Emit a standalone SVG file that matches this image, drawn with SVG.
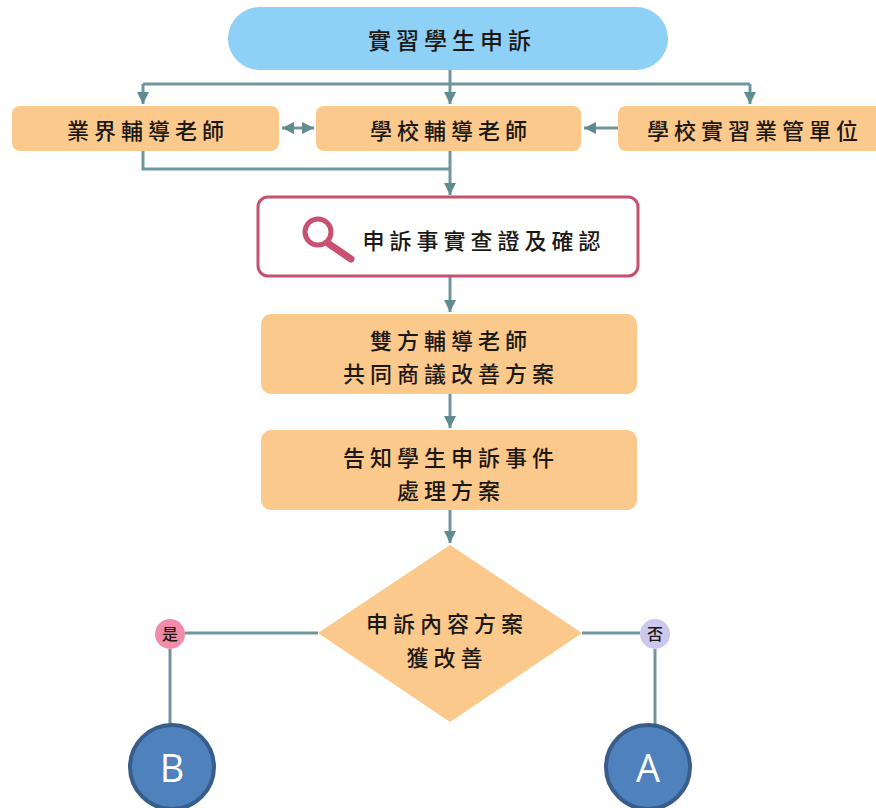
<svg xmlns="http://www.w3.org/2000/svg" width="876" height="808" viewBox="0 0 876 808">
<defs>
<style>
.box{fill:#fcc98c;}
.cn{font-family:"Noto Sans CJK TC","Noto Sans CJK SC",sans-serif;font-size:22px;font-weight:500;fill:#1c1814;letter-spacing:5px;text-anchor:middle;dominant-baseline:central;}
.sm{font-size:16px;letter-spacing:0;}
.ln{fill:none;stroke:#6f979b;stroke-width:3;}
.big{fill:#4f81bd;stroke:#385d8a;stroke-width:4;}
.lt{font-family:"Open Sans","Liberation Sans",sans-serif;font-size:38px;fill:#ffffff;text-anchor:middle;dominant-baseline:central;}
</style>
<marker id="ah" markerUnits="userSpaceOnUse" markerWidth="14" markerHeight="12" refX="12" refY="6" orient="auto-start-reverse">
<path d="M0,0 L12,6 L0,12 Z" fill="#5f8c91"/>
</marker>
</defs>
<rect width="876" height="808" fill="#ffffff"/>
<g id="connectors">
<path class="ln" d="M450,70 V104" marker-end="url(#ah)"/>
<path class="ln" d="M143,84 H750"/>
<path class="ln" d="M143,84 V104" marker-end="url(#ah)"/>
<path class="ln" d="M750,84 V104" marker-end="url(#ah)"/>
<path class="ln" d="M282,128 H314" marker-start="url(#ah)" marker-end="url(#ah)"/>
<path class="ln" d="M618,128 H584" marker-end="url(#ah)"/>
<path class="ln" d="M143,151 V169 H450"/>
<path class="ln" d="M450,151 V195" marker-end="url(#ah)"/>
<path class="ln" d="M450,276 V312" marker-end="url(#ah)"/>
<path class="ln" d="M450,394 V428" marker-end="url(#ah)"/>
<path class="ln" d="M450,510 V543" marker-end="url(#ah)"/>
<path class="ln" d="M318,633 H185"/>
<path class="ln" d="M170,649 V727"/>
<path class="ln" d="M582,633 H640"/>
<path class="ln" d="M655,649 V727"/>
</g>
<g id="start">
<rect x="228" y="7" width="440" height="63" rx="31.5" fill="#8fd0f7"/>
<text class="cn" x="452" y="39" style="font-size:23px">實習學生申訴</text>
</g>
<g id="industry-teacher">
<rect class="box" x="12" y="106" width="267" height="45" rx="8"/>
<text class="cn" x="148" y="129">業界輔導老師</text>
</g>
<g id="school-teacher">
<rect class="box" x="316" y="106" width="265" height="45" rx="8"/>
<text class="cn" x="451" y="129">學校輔導老師</text>
</g>
<g id="school-unit">
<rect class="box" x="618" y="106" width="270" height="45" rx="8"/>
<text class="cn" x="755" y="129">學校實習業管單位</text>
</g>
<g id="verify">
<rect x="258" y="197" width="380" height="79" rx="10" fill="#ffffff" stroke="#c4526f" stroke-width="3"/>
<circle cx="318" cy="232" r="13" fill="none" stroke="#c9506e" stroke-width="5"/>
<path d="M329,244 L351,259" stroke="#c9506e" stroke-width="7" stroke-linecap="round"/>
<text class="cn" x="484" y="239">申訴事實查證及確認</text>
</g>
<g id="negotiate">
<rect class="box" x="261" y="314" width="376" height="80" rx="10"/>
<text class="cn" x="451" y="339">雙方輔導老師</text>
<text class="cn" x="451" y="372">共同商議改善方案</text>
</g>
<g id="inform">
<rect class="box" x="261" y="430" width="376" height="80" rx="10"/>
<text class="cn" x="451" y="456">告知學生申訴事件</text>
<text class="cn" x="451" y="489">處理方案</text>
</g>
<g id="decision">
<polygon class="box" points="450,545 582,633 450,722 318,633"/>
<text class="cn" x="447" y="622">申訴內容方案</text>
<text class="cn" x="447" y="656">獲改善</text>
</g>
<g id="yes">
<circle cx="170" cy="634" r="15" fill="#f08caa"/>
<text class="cn sm" x="170" y="633">是</text>
</g>
<g id="no">
<circle cx="655" cy="634" r="15" fill="#cdc7ee"/>
<text class="cn sm" x="655" y="633">否</text>
</g>
<g id="B">
<circle class="big" cx="172" cy="767" r="42"/>
<text class="lt" x="172" y="767">B</text>
</g>
<g id="A">
<circle class="big" cx="648" cy="767" r="42"/>
<text class="lt" x="648" y="767">A</text>
</g>
</svg>
